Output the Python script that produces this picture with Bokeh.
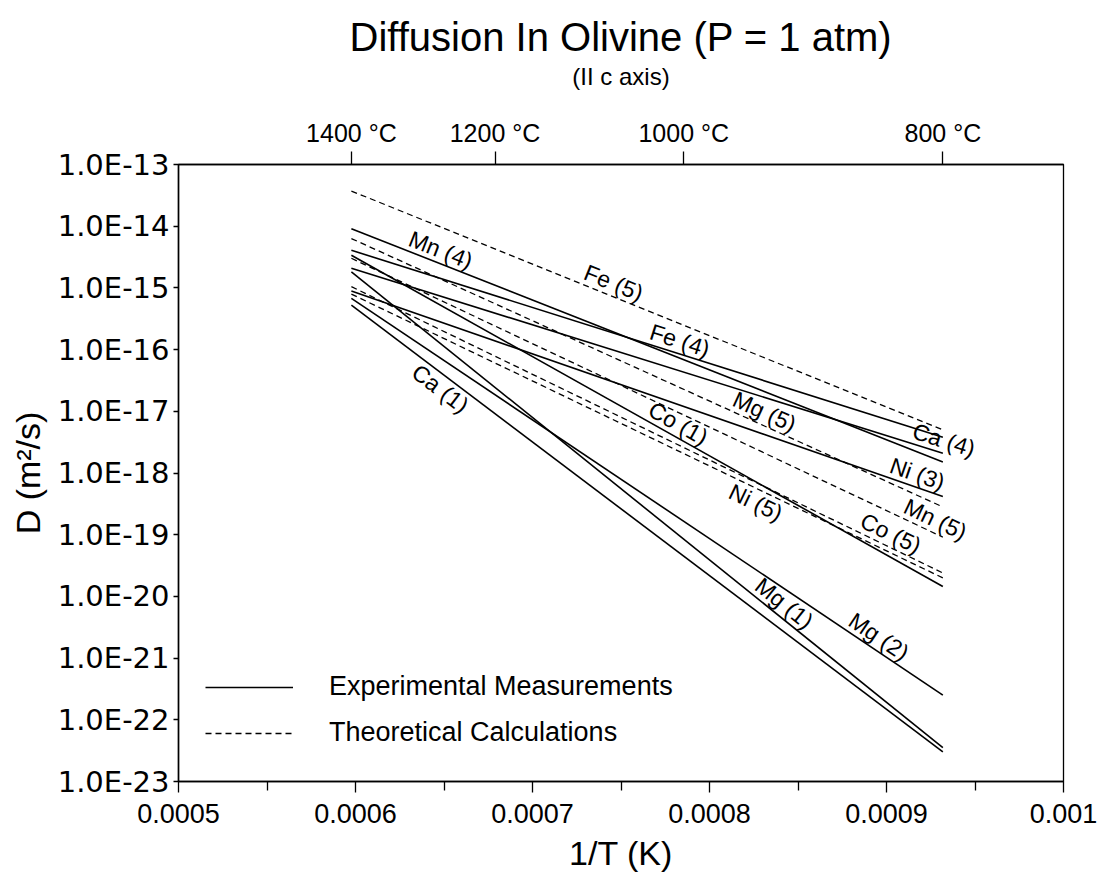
import math
from bokeh.plotting import figure
from bokeh.models import (LinearAxis, FixedTicker, CustomJSTickFormatter, Range1d,
                          Legend, LegendItem)
from bokeh.embed import file_html
from bokeh.resources import INLINE
from bokeh.core.properties import value

FONT = "Liberation Sans"

# ---------------- data ----------------
line_temps_C = [1400, 800]          # each Arrhenius line spans 1400 -> 800 degC
series_names = ["Fe (5)", "Mg (5)", "Mn (5)", "Co (5)", "Ni (5)",
                "Mn (4)", "Fe (4)", "Ca (4)", "Co (1)", "Ni (3)",
                "Mg (2)", "Mg (1)", "Ca (1)"]
series_kind = ["theory", "theory", "theory", "theory", "theory",
               "exp", "exp", "exp", "exp", "exp", "exp", "exp", "exp"]
logD_1400 = [-13.43, -14.20, -14.52, -14.98, -15.10,
             -14.04, -14.39, -14.68, -14.47, -15.05, -15.17, -14.74, -15.28]
logD_800 = [-17.30, -18.55, -19.04, -19.62, -19.70,
            -17.82, -17.42, -17.68, -19.84, -18.38, -21.60, -22.45, -22.52]

top_ticks_C = [1400, 1200, 1000, 800]
x_ticks = [0.0005, 0.0006, 0.0007, 0.0008, 0.0009, 0.001]
x_minor_ticks = [0.00055, 0.00065, 0.00075, 0.00085, 0.00095]
y_ticks = [1e-23, 1e-22, 1e-21, 1e-20, 1e-19, 1e-18, 1e-17, 1e-16, 1e-15, 1e-14, 1e-13]

# label placement: 1/T at which label starts, side of line
label_place = {
    "Mn (4)": (0.000628, "above"),
    "Fe (5)": (0.000727, "above"),
    "Fe (4)": (0.0007645, "above"),
    "Ca (1)": (0.000638, "below"),
    "Co (1)": (0.000763, "above"),
    "Mg (5)": (0.000811, "above"),
    "Ca (4)": (0.000913, "above"),
    "Ni (3)": (0.000900, "above"),
    "Mn (5)": (0.0009075, "above"),
    "Co (5)": (0.000883, "above"),
    "Ni (5)": (0.000815, "below"),
    "Mg (1)": (0.000823, "above"),
    "Mg (2)": (0.000876, "above"),
}

# ---------------- figure ----------------
FW, FH = 885, 617
x0, x1 = 0.0005, 0.001
p = figure(frame_width=FW, frame_height=FH,
           x_range=Range1d(x0, x1), y_range=Range1d(1e-23, 1e-13),
           y_axis_type="log", output_backend="svg", toolbar_location=None,
           min_border_left=178, min_border_right=44,
           min_border_top=164, min_border_bottom=105)
p.xgrid.visible = False
p.ygrid.visible = False
p.outline_line_color = "black"
p.outline_line_width = 1.3
p.background_fill_color = "white"
p.border_fill_color = "white"

xs = [1.0 / (t + 273.15) for t in line_temps_C]
px_per_x = FW / (x1 - x0)
px_per_dec = FH / 10.0

renderers = {}
for name, kind, a, b in zip(series_names, series_kind, logD_1400, logD_800):
    ys = [10 ** a, 10 ** b]
    r = p.line(xs, ys, line_color="black",
               line_width=1.6 if kind == "exp" else 1.3,
               line_dash="solid" if kind == "exp" else "6 4")
    renderers.setdefault(kind, r)

# curve labels
groups = {"above": dict(x=[], y=[], t=[], a=[]), "below": dict(x=[], y=[], t=[], a=[])}
for name, a, b in zip(series_names, logD_1400, logD_800):
    lx, side = label_place[name]
    frac = (lx - xs[0]) / (xs[1] - xs[0])
    ly = a + frac * (b - a)
    ang = math.atan2((b - a) * px_per_dec, (xs[1] - xs[0]) * px_per_x)
    g = groups[side]
    g["x"].append(lx); g["y"].append(10 ** ly); g["t"].append(name); g["a"].append(ang)

for side, base in (("above", "bottom"), ("below", "top")):
    g = groups[side]
    p.text(x=g["x"], y=g["y"], text=g["t"], angle=g["a"],
           text_font=value(FONT), text_font_size="23px", text_color="black",
           text_align="left", text_baseline=base)

# bottom axis
xa = p.xaxis[0]
xa.ticker = FixedTicker(ticks=x_ticks, minor_ticks=x_minor_ticks)
xa.formatter = CustomJSTickFormatter(code="return parseFloat(tick.toFixed(4)).toString();")
xa.axis_label = "1/T (K)"
# y axis
ya = p.yaxis[0]
ya.ticker = FixedTicker(ticks=y_ticks, minor_ticks=[])
ya.formatter = CustomJSTickFormatter(code="return '1.0E' + Math.round(Math.log10(tick));")
ya.axis_label = "D (m\u00b2/s)"

for ax in (xa, ya):
    ax.major_label_text_font = FONT
    ax.major_label_text_font_size = "27px"
    ax.major_label_text_color = "black"
    ax.axis_label_text_font = FONT
    ax.axis_label_text_font_size = "34px"
    ax.axis_label_text_font_style = "normal"
    ax.axis_label_text_color = "black"
    ax.axis_line_color = "black"
    ax.axis_line_width = 1.5
    ax.major_tick_line_color = "black"
    ax.minor_tick_line_color = "black"
    ax.major_tick_line_width = 1.3
    ax.minor_tick_line_width = 1.3
    ax.major_tick_in = 0
    ax.minor_tick_in = 0

ya.major_label_text_font = "DejaVu Sans"
ya.major_label_text_font_size = "29px"
xa.major_tick_out = 11
xa.minor_tick_out = 9
xa.major_label_standoff = 11
xa.axis_label_standoff = 8
ya.major_tick_out = 5
ya.minor_tick_out = 0
ya.major_label_standoff = 4
ya.axis_label_standoff = 8

# top temperature axis (its label carries the subtitle)
top = LinearAxis(ticker=FixedTicker(ticks=[1.0 / (t + 273.15) for t in top_ticks_C], minor_ticks=[]),
                 formatter=CustomJSTickFormatter(code="return Math.round(1/tick - 273.15) + ' \u00b0C';"),
                 axis_label="(II c axis)")
top.major_label_text_font = FONT
top.major_label_text_font_size = "25px"
top.major_label_text_color = "black"
top.axis_label_text_font = FONT
top.axis_label_text_font_size = "24px"
top.axis_label_text_font_style = "normal"
top.axis_label_text_color = "black"
top.axis_label_standoff = 26
top.axis_line_color = "black"
top.axis_line_width = 1.5
top.major_tick_line_color = "black"
top.major_tick_line_width = 1.3
top.major_tick_in = 0
top.major_tick_out = 13
top.minor_tick_out = 0
top.major_label_standoff = 5
p.add_layout(top, "above")

# title
p.title.text = "Diffusion In Olivine (P = 1 atm)"
p.title.align = "center"
p.title.text_font = FONT
p.title.text_font_size = "40px"
p.title.text_font_style = "normal"
p.title.text_color = "black"
p.title.standoff = 2

# legend
legend = Legend(items=[LegendItem(label="Experimental Measurements", renderers=[renderers["exp"]]),
                       LegendItem(label="Theoretical Calculations", renderers=[renderers["theory"]])],
                location=(27, 33), glyph_width=88, glyph_height=30, label_height=30,
                label_standoff=36, spacing=15, padding=0, margin=0,
                border_line_alpha=0, background_fill_alpha=0,
                label_text_font=FONT, label_text_font_size="27px", label_text_color="black")
p.add_layout(legend)

open("out.html", "w").write(file_html(p, INLINE))
